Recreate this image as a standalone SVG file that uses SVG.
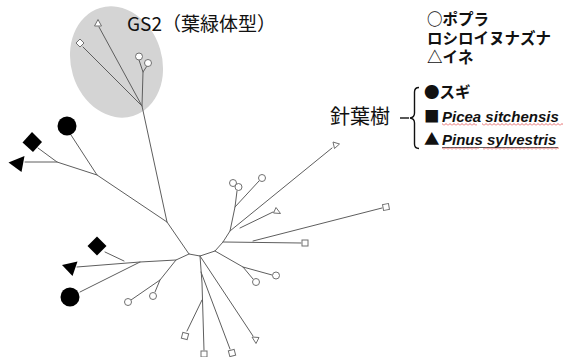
<svg xmlns="http://www.w3.org/2000/svg" width="563" height="357" viewBox="0 0 563 357">
<defs>
<style>
.br{fill:none;stroke:#5e5e5e;stroke-width:1;stroke-linecap:round;stroke-linejoin:round}
.tip{fill:#fff;stroke:#707070;stroke-width:1}
.blk{fill:#000}
.jp{font-family:"Noto Sans CJK JP","Noto Sans",sans-serif;fill:#111}
.lg{font-weight:bold;font-size:15.5px}
.lat{font-family:"Liberation Sans",Arial,sans-serif;font-weight:bold;font-style:italic;font-size:15px;fill:#111}
</style>
<pattern id="wave" width="4" height="3" patternUnits="userSpaceOnUse">
<path d="M0,2.5 L2,0.5 L4,2.5" fill="none" stroke="#e04848" stroke-width="0.8"/>
</pattern>
</defs>
<rect width="563" height="357" fill="#fff"/>

<g id="gs2-region">
<ellipse cx="116.5" cy="62" rx="45.5" ry="56.5" transform="rotate(-17 116.5 62)" fill="#d4d4d4"/>
<text class="jp" x="127" y="31" font-size="19">GS2（葉緑体型）</text>
</g>

<g id="connectors" class="br">
<path d="M99,27 L142,106 M83,47 L142,106 M139,60 L143,72 M147,66 L143,72 L142,106 L167,222"/>
<path d="M167,222 L97,175 L71,135 M97,175 L57,162 L38,148 M57,162 L25,162"/>
<path d="M167,222 L189,254 L200,256 L215,251 L223,242 L230,231 L235,207 L237,191 M235,207 L259,181"/>
<path d="M230,231 L332,148 M240,228 L273,212 M223,242 L301,243 M253,241 L382,208"/>
<path d="M215,251 L243,267 L253,279 M243,267 L272,275"/>
<path d="M200,256 L253,336 M200,256 L202,283 L204,350 M201,272 L230,349 M202,300 L187,331"/>
<path d="M189,254 L176,260 L140,262 L80,292 M140,262 L77,267 M124,261 L105,252 M176,260 L160,280 L131,300 M160,280 L155,292"/>
</g>

<g id="gs2-leaves">
<path class="tip" d="M98,19.5 L101.5,26 L94.5,26 Z"/>
<path class="tip" d="M80,39 L84,43 L80,47 L76,43 Z"/>
<circle class="tip" cx="139" cy="56.5" r="3.5"/>
<circle class="tip" cx="148" cy="63" r="3.5"/>
</g>

<g id="conifer-1">
<circle class="blk" cx="67" cy="126" r="9.5"/>
<path class="blk" d="M32,132 L42,142 L33,152 L22.5,142.5 Z"/>
<path class="blk" d="M8.5,162.5 L24.5,156 L21.5,172 Z"/>
</g>

<g id="conifer-2">
<circle class="blk" cx="70" cy="297" r="9.5"/>
<path class="blk" d="M97,236.5 L106.5,246 L97,255.5 L87.5,246 Z"/>
<path class="blk" d="M62,265 L77.5,261.5 L72.5,276 Z"/>
</g>

<g id="poplar-leaves">
<circle class="tip" cx="233" cy="183" r="3.5"/>
<circle class="tip" cx="238.5" cy="187" r="3.5"/>
<circle class="tip" cx="262" cy="178" r="3.5"/>
<circle class="tip" cx="256" cy="282" r="3.5"/>
<circle class="tip" cx="276" cy="275.5" r="3.5"/>
<circle class="tip" cx="153" cy="296" r="3.5"/>
<circle class="tip" cx="128" cy="302" r="3.5"/>
</g>

<g id="arabidopsis-leaves">
<rect class="tip" x="302" y="240" width="6" height="6"/>
<rect class="tip" x="383" y="204" width="6" height="6" transform="rotate(-10 386 207)"/>
<rect class="tip" x="182" y="333" width="6" height="6" transform="rotate(15 185 336)"/>
<rect class="tip" x="201" y="351" width="6" height="6"/>
<rect class="tip" x="229" y="350" width="6" height="6" transform="rotate(-15 232 353)"/>
</g>

<g id="rice-leaves">
<path class="tip" d="M333,142 L339.5,144 L334.5,148.5 Z"/>
<path class="tip" d="M276,207.5 L280.5,213.5 L273.5,213 Z"/>
<path class="tip" d="M252,337 L259,337.5 L256,343.5 Z"/>
</g>

<g id="legend-angiosperms">
<text class="jp lg" x="427" y="25">○ポプラ</text>
<text class="jp lg" x="427" y="44">ロシロイヌナズナ</text>
<text class="jp lg" x="427" y="63">△イネ</text>
</g>

<g id="legend-conifers">
<text class="jp" x="330" y="124" font-size="20">針葉樹</text>
<path d="M400,118 L409,118" stroke="#111" stroke-width="1.4" fill="none"/>
<path d="M419,87.5 Q414.5,87.5 414.5,92 L414.5,113 Q414.5,117.5 410,118 Q414.5,118.5 414.5,123 L414.5,144 Q414.5,148.5 419,148.5" stroke="#111" stroke-width="1.4" fill="none"/>
<text class="jp lg" x="424" y="98">●スギ</text>
<text class="jp lg" x="424" y="122">■</text>
<text class="lat" x="442" y="122">Picea sitchensis</text>
<rect x="442" y="123" width="35" height="3" fill="url(#wave)"/>
<rect x="482" y="123" width="81" height="3" fill="url(#wave)"/>
<text class="jp lg" x="424" y="145">▲</text>
<text class="lat" x="442" y="145">Pinus sylvestris</text>
<path d="M442,147.5 L558,147.5" stroke="#333" stroke-width="0.8"/>
<rect x="442" y="147" width="37" height="3" fill="url(#wave)"/>
<rect x="483" y="147" width="76" height="3" fill="url(#wave)"/>
</g>
</svg>
